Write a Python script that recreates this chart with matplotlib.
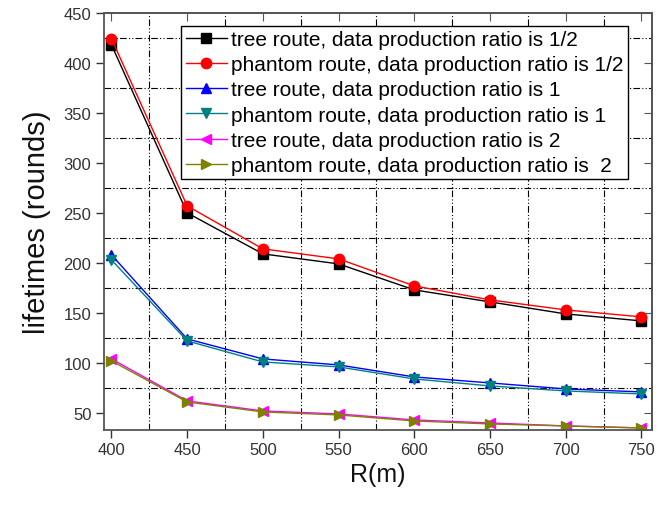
import matplotlib
matplotlib.use("Agg")
import matplotlib.pyplot as plt
from matplotlib.ticker import MultipleLocator

plt.rcParams['font.family'] = ['Liberation Sans', 'DejaVu Sans']

R = [400, 450, 500, 550, 600, 650, 700, 750]
tree_half = [418, 250, 209, 199, 173, 161, 149, 142]
phantom_half = [424, 257, 214, 204, 177, 163, 153, 146]
tree_one = [208, 124, 104, 98, 86, 80, 74, 71]
phantom_one = [203, 122, 101, 96, 84, 77, 72, 69]
tree_two = [104, 62, 52, 49, 43, 40, 37, 35]
phantom_two = [102, 61, 51, 48, 42, 39, 37, 35]

labels = [
    "tree route, data production ratio is 1/2",
    "phantom route, data production ratio is 1/2",
    "tree route, data production ratio is 1",
    "phantom route, data production ratio is 1",
    "tree route, data production ratio is 2",
    "phantom route, data production ratio is  2",
]
series = [tree_half, phantom_half, tree_one, phantom_one, tree_two, phantom_two]
colors = ["#000000", "#ff0000", "#0000ff", "#008080", "#ff00ff", "#808000"]
markers = ["s", "o", "^", "v", "<", ">"]

fig = plt.figure(figsize=(6.66, 5.10), dpi=100)
ax = fig.add_axes([0.156, 0.155, 0.823, 0.818])

for y, c, m, lab in zip(series, colors, markers, labels):
    ax.plot(R, y, color=c, marker=m, markersize=7.5, linewidth=1.0, label=lab)

ax.set_xlim(395, 757)
ax.set_ylim(33, 450)
ax.xaxis.set_major_locator(MultipleLocator(50))
ax.xaxis.set_minor_locator(MultipleLocator(25))
ax.yaxis.set_major_locator(MultipleLocator(50))
ax.yaxis.set_minor_locator(MultipleLocator(25))
ax.set_yticks([50, 100, 150, 200, 250, 300, 350, 400, 450])

# grid at minor positions only
for gx in [425, 475, 525, 575, 625, 675, 725]:
    ax.axvline(gx, color="black", linestyle=(0, (6, 2, 1, 2, 1, 2)), linewidth=0.8, zorder=0)
for gy in [75, 125, 175, 225, 275, 325, 375, 425]:
    ax.axhline(gy, color="black", linestyle=(0, (6, 2, 1, 2, 1, 2)), linewidth=0.8, zorder=0)

ax.tick_params(which="major", direction="out", length=6, width=1, colors="#333333",
               labelsize=12, pad=3)
ax.tick_params(which="minor", length=0)
for s in ax.spines.values():
    s.set_color("#555555")
    s.set_linewidth(1.3)

secx = ax.secondary_xaxis("top")
secx.set_xticks(R)
secx.tick_params(direction="in", length=6, labeltop=False, colors="#555555")
secx.xaxis.set_minor_locator(MultipleLocator(1000))
secy = ax.secondary_yaxis("right")
secy.set_yticks([50, 100, 150, 200, 250, 300, 350, 400, 450])
secy.tick_params(direction="in", length=6, labelright=False, colors="#555555")
secy.yaxis.set_minor_locator(MultipleLocator(1000))
for s in list(secx.spines.values()) + list(secy.spines.values()):
    s.set_color("#555555")
    s.set_linewidth(1.3)

ax.set_xlabel("R(m)", fontsize=18, color="#111111", labelpad=3)
ax.set_ylabel("lifetimes (rounds)", fontsize=21, color="#111111", labelpad=9)

leg = ax.legend(loc="upper right", bbox_to_anchor=(0.956, 0.969), borderaxespad=0,
                fontsize=15, frameon=True, fancybox=False, edgecolor="black",
                framealpha=1, handlelength=2.0, handletextpad=0.2,
                labelspacing=0.3, borderpad=0.2, markerscale=1.0)
leg.get_frame().set_linewidth(1.0)

fig.savefig("out.png", dpi=100)
